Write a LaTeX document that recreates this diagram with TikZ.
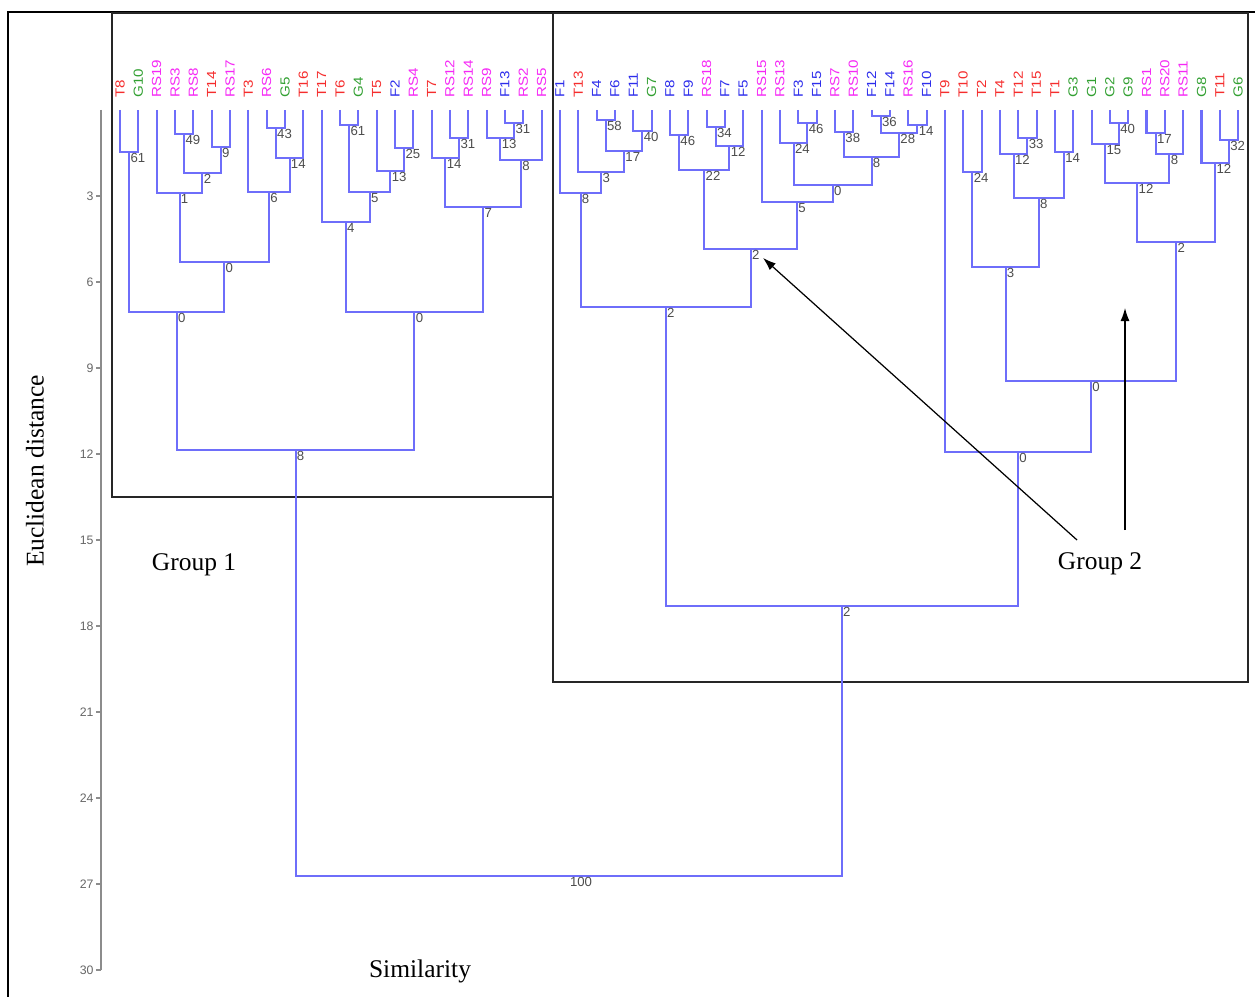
\documentclass[tikz,border=0pt]{standalone}
\usepackage{fontspec}
\setmainfont{Liberation Serif}
\setsansfont{Liberation Sans}
\newfontfamily\leaffont[FakeStretch=1.15]{Liberation Sans}
\usetikzlibrary{
    arrows.meta,
    positioning,
    calc
}
\definecolor{clred}{RGB}{245,45,45}
\definecolor{clgreen}{RGB}{50,160,50}
\definecolor{clmag}{RGB}{245,40,245}
\definecolor{clblue}{RGB}{45,45,235}
\definecolor{clbranch}{RGB}{110,110,250}
\tikzstyle{branch} = [
    line width=1.15pt,
    draw=clbranch
]
\tikzstyle{dist} = [
    anchor=north west,
    inner sep=0.6pt,
    font=\sffamily\fontsize{7.5}{7.5}\selectfont,
    text=black!70
]
\tikzstyle{leaf} = [
    rotate=90,
    anchor=west,
    inner sep=0pt,
    font=\leaffont\fontsize{7.5}{7.5}\selectfont
]
\tikzstyle{axis} = [
    line width=0.8pt,
    draw=black!45
]
\tikzstyle{tick} = [
    inner sep=1pt,
    font=\sffamily\fontsize{7}{7}\selectfont,
    text=black!60
]
\tikzstyle{groupbox} = [
    line width=0.9pt,
    draw=black!85
]
\tikzstyle{pointer} = [
    -{Latex[length=2.6mm,width=1.8mm]},
    line width=0.7pt,
    draw=black
]
\tikzstyle{caption} = [
    font=\fontsize{14.5}{15}\selectfont
]
% one merge: name, left child, right child, bar height, similarity
\newcommand{\clusterjoin}[5]{%
    \coordinate (#1m) at ($(#2)!0.5!(#3)$);
    \coordinate (#1) at (#1m |- 0,#4);
    \draw[branch] (#2) |- (#1) -| (#3);
    \node[dist] (#1l) at (#1) {#5};
}

\begin{document}
\begin{tikzpicture}[x=0.2mm, y=-0.2mm]
    \useasboundingbox (0,0) rectangle (1255,996);

    % Frames
    \draw[line width=1.2pt] (8,12) rectangle (1275,1015);
    \draw[groupbox] (112,13) rectangle (553,497);
    \draw[groupbox] (553,13) rectangle (1248,682);

    % Leaves
    \foreach \lf/\lc [count=\i] in {T8/clred, G10/clgreen, RS19/clmag, RS3/clmag,
        RS8/clmag, T14/clred, RS17/clmag, T3/clred, RS6/clmag, G5/clgreen,
        T16/clred, T17/clred, T6/clred, G4/clgreen, T5/clred, F2/clblue,
        RS4/clmag, T7/clred, RS12/clmag, RS14/clmag, RS9/clmag, F13/clblue,
        RS2/clmag, RS5/clmag, F1/clblue, T13/clred, F4/clblue, F6/clblue,
        F11/clblue, G7/clgreen, F8/clblue, F9/clblue, RS18/clmag, F7/clblue,
        F5/clblue, RS15/clmag, RS13/clmag, F3/clblue, F15/clblue, RS7/clmag,
        RS10/clmag, F12/clblue, F14/clblue, RS16/clmag, F10/clblue, T9/clred,
        T10/clred, T2/clred, T4/clred, T12/clred, T15/clred, T1/clred,
        G3/clgreen, G1/clgreen, G2/clgreen, G9/clgreen, RS1/clmag, RS20/clmag,
        RS11/clmag, G8/clgreen, T11/clred, G6/clgreen} {
        \coordinate (\lf) at ({120+18.33*(\i-1)},110);
        \node[leaf, text=\lc] (\lf-l) at ($(\lf)+(0,-12)$) {\lf};
    }

    % Group 1
    \clusterjoin{a1}{T8}{G10}{152}{61}
    \clusterjoin{a2}{RS3}{RS8}{134}{49}
    \clusterjoin{a3}{T14}{RS17}{147}{9}
    \clusterjoin{a4}{a2}{a3}{173}{2}
    \clusterjoin{a5}{RS19}{a4}{193}{1}
    \clusterjoin{a6}{RS6}{G5}{128}{43}
    \clusterjoin{a7}{a6}{T16}{158}{14}
    \clusterjoin{a8}{T3}{a7}{192}{6}
    \clusterjoin{a9}{a5}{a8}{262}{0}
    \clusterjoin{a10}{a1}{a9}{312}{0}
    \clusterjoin{b1}{T6}{G4}{125}{61}
    \clusterjoin{b2}{F2}{RS4}{148}{25}
    \clusterjoin{b3}{T5}{b2}{171}{13}
    \clusterjoin{b4}{b1}{b3}{192}{5}
    \clusterjoin{b5}{T17}{b4}{222}{4}
    \clusterjoin{b6}{RS12}{RS14}{138}{31}
    \clusterjoin{b7}{T7}{b6}{158}{14}
    \clusterjoin{b8}{F13}{RS2}{123}{31}
    \clusterjoin{b9}{RS9}{b8}{138}{13}
    \clusterjoin{b10}{b9}{RS5}{160}{8}
    \clusterjoin{b11}{b7}{b10}{207}{7}
    \clusterjoin{b12}{b5}{b11}{312}{0}
    \clusterjoin{g1}{a10}{b12}{450}{8}

    % Group 2, left part
    \clusterjoin{c1}{F4}{F6}{120}{58}
    \clusterjoin{c2}{F11}{G7}{131}{40}
    \clusterjoin{c3}{c1}{c2}{151}{17}
    \clusterjoin{c4}{T13}{c3}{172}{3}
    \clusterjoin{c5}{F1}{c4}{193}{8}
    \clusterjoin{c6}{F8}{F9}{135}{46}
    \clusterjoin{c7}{RS18}{F7}{127}{34}
    \clusterjoin{c8}{c7}{F5}{146}{12}
    \clusterjoin{c9}{c6}{c8}{170}{22}
    \clusterjoin{c10}{F3}{F15}{123}{46}
    \clusterjoin{c11}{RS13}{c10}{143}{24}
    \clusterjoin{c12}{RS7}{RS10}{132}{38}
    \clusterjoin{c13}{F12}{F14}{116}{36}
    \clusterjoin{c14}{RS16}{F10}{125}{14}
    \clusterjoin{c15}{c13}{c14}{133}{28}
    \clusterjoin{c16}{c12}{c15}{157}{8}
    \clusterjoin{c17}{c11}{c16}{185}{0}
    \clusterjoin{c18}{RS15}{c17}{202}{5}
    \clusterjoin{c19}{c9}{c18}{249}{2}
    \clusterjoin{c20}{c5}{c19}{307}{2}

    % Group 2, right part
    \clusterjoin{d1}{T10}{T2}{172}{24}
    \clusterjoin{d2}{T12}{T15}{138}{33}
    \clusterjoin{d3}{T4}{d2}{154}{12}
    \clusterjoin{d4}{T1}{G3}{152}{14}
    \clusterjoin{d5}{d3}{d4}{198}{8}
    \clusterjoin{d6}{d1}{d5}{267}{3}
    \clusterjoin{d7}{G2}{G9}{123}{40}
    \clusterjoin{d8}{G1}{d7}{144}{15}
    \clusterjoin{d9}{RS1}{RS20}{133}{17}
    \clusterjoin{d10}{d9}{RS11}{154}{8}
    \clusterjoin{d11}{d8}{d10}{183}{12}
    \clusterjoin{d12}{T11}{G6}{140}{32}
    \clusterjoin{d13}{G8}{d12}{163}{12}
    \clusterjoin{d14}{d11}{d13}{242}{2}
    \clusterjoin{d15}{d6}{d14}{381}{0}
    \clusterjoin{d16}{T9}{d15}{452}{0}
    \clusterjoin{g2}{c20}{d16}{606}{2}

    % Root
    \clusterjoin{root}{g1}{g2}{876}{100}

    % Distance axis
    \draw[axis] (101,110) -- (101,970);
    \foreach \d in {3,6,...,30} {
        \draw[axis] (101,{110+28.667*\d}) -- +(-5,0)
            node[tick, anchor=east] (tk\d) {\d};
    }

    % Captions
    \node[caption, rotate=90] (ylab) at (35,471) {Euclidean distance};
    \node[caption] (xlab) at (420,971) {Similarity};
    \node[caption] (grp1) at (194,565) {Group 1};
    \node[caption] (grp2) at (1100,564) {Group 2};

    % Pointers to group 2
    \coordinate (arrA) at (1077,540);
    \coordinate (arrB) at (1125,530);
    \coordinate (tipA) at (763,258);
    \coordinate (tipB) at (1125,308);
    \draw[pointer] (arrA) -- (tipA);
    \draw[pointer] (arrB) -- (tipB);
\end{tikzpicture}
\end{document}
